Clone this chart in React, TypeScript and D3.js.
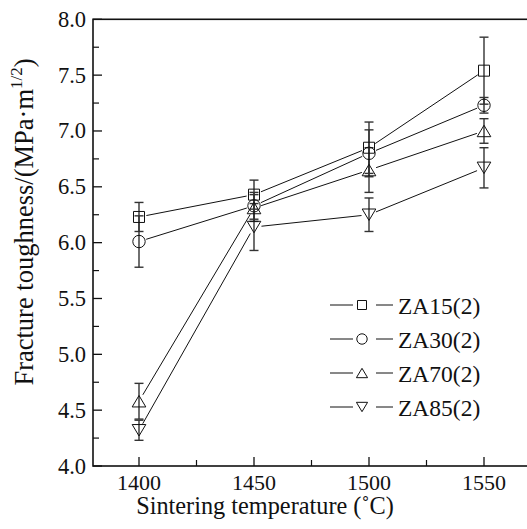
import React from 'react';
import * as d3 from 'd3';

// sintering temperatures (°C)
const temps = [1400, 1450, 1500, 1550];

// fracture toughness values
const za15 = [6.23, 6.43, 6.85, 7.54];
const za15Err = [0.13, 0.13, 0.23, 0.3];
const za30 = [6.01, 6.33, 6.8, 7.23];
const za30Err = [0.23, 0.12, 0.21, 0.07];
const za70 = [4.58, 6.31, 6.65, 7.0];
const za70Err = [0.16, 0.12, 0.2, 0.11];
const za85 = [4.32, 6.14, 6.25, 6.67];
const za85Err = [0.09, 0.21, 0.15, 0.18];

const seriesNames = ['ZA15(2)', 'ZA30(2)', 'ZA70(2)', 'ZA85(2)'];
const markerKinds = ['square', 'circle', 'up', 'down'];

const xMajor = [1400, 1450, 1500, 1550];
const xMinor = [1425, 1475, 1525];
const yMajor = [4.0, 4.5, 5.0, 5.5, 6.0, 6.5, 7.0, 7.5, 8.0];
const yMinor = [4.25, 4.75, 5.25, 5.75, 6.25, 6.75, 7.25, 7.75];

const W = 527;
const H = 529;
const FONT = 'Liberation Serif, DejaVu Serif, serif';

function markerPath(kind: string, x: number, y: number, s: number) {
  if (kind === 'square') {
    const h = s / 2;
    return `M${x - h},${y - h}h${s}v${s}h${-s}Z`;
  }
  if (kind === 'circle') {
    const r = s / 2 + 0.7;
    return `M${x - r},${y}a${r},${r} 0 1,0 ${2 * r},0a${r},${r} 0 1,0 ${-2 * r},0Z`;
  }
  const hw = s * 0.62;
  const hh = s * 0.52;
  if (kind === 'up') {
    return `M${x},${y - hh}L${x + hw},${y + hh}L${x - hw},${y + hh}Z`;
  }
  return `M${x},${y + hh}L${x + hw},${y - hh}L${x - hw},${y - hh}Z`;
}

export default function App() {
  const x = d3.scaleLinear().domain([1380, 1570]).range([93, 530]);
  const y = d3.scaleLinear().domain([4, 8]).range([466, 19.3]);

  const series = [
    { name: seriesNames[0], kind: markerKinds[0], vals: za15, err: za15Err },
    { name: seriesNames[1], kind: markerKinds[1], vals: za30, err: za30Err },
    { name: seriesNames[2], kind: markerKinds[2], vals: za70, err: za70Err },
    { name: seriesNames[3], kind: markerKinds[3], vals: za85, err: za85Err },
  ];

  const gap = 7.5; // lines stop short of the markers
  const segments: string[] = [];
  series.forEach((s) => {
    for (let i = 0; i < temps.length - 1; i++) {
      const x1 = x(temps[i]), y1 = y(s.vals[i]);
      const x2 = x(temps[i + 1]), y2 = y(s.vals[i + 1]);
      const len = Math.hypot(x2 - x1, y2 - y1);
      const dx = (x2 - x1) / len, dy = (y2 - y1) / len;
      segments.push(`M${x1 + dx * gap},${y1 + dy * gap}L${x2 - dx * gap},${y2 - dy * gap}`);
    }
  });

  const left = x.range()[0];
  const bottom = y.range()[0];
  const top = y.range()[1];
  const txt = { fontFamily: FONT };

  return (
    <svg width={W} height={H} style={{ position: 'absolute', left: 0, top: 0, background: '#fff', fontFamily: FONT }}>
      {/* frame */}
      <rect x={left} y={top} width={x.range()[1] - left} height={bottom - top}
        fill="none" stroke="#111" strokeWidth={1.6} />

      {/* y ticks */}
      {yMajor.map((v) => (
        <g key={'ym' + v}>
          <line x1={left} x2={left + 9} y1={y(v)} y2={y(v)} stroke="#111" strokeWidth={1.3} />
          <text x={left - 7} y={y(v) + 7.5} textAnchor="end" fontSize={22.5} fill="#111" style={txt}>
            {d3.format('.1f')(v)}
          </text>
        </g>
      ))}
      {yMinor.map((v) => (
        <line key={'yn' + v} x1={left} x2={left + 6} y1={y(v)} y2={y(v)} stroke="#111" strokeWidth={1.2} />
      ))}

      {/* x ticks */}
      {xMajor.map((v) => (
        <g key={'xm' + v}>
          <line x1={x(v)} x2={x(v)} y1={bottom} y2={bottom - 9} stroke="#111" strokeWidth={1.3} />
          <text x={x(v)} y={bottom + 23.5} textAnchor="middle" fontSize={22} fill="#111" style={txt}>{v}</text>
        </g>
      ))}
      {xMinor.map((v) => (
        <line key={'xn' + v} x1={x(v)} x2={x(v)} y1={bottom} y2={bottom - 6} stroke="#111" strokeWidth={1.2} />
      ))}

      {/* axis titles */}
      <text x={265} y={513.5} textAnchor="middle" fontSize={24.3} fill="#111" style={txt}>
        Sintering temperature (˚C)
      </text>
      <text transform={`translate(33,222) rotate(-90)`} textAnchor="middle" fontSize={26.5} fill="#111" style={txt}>
        Fracture toughness/(MPa·m
        <tspan fontSize={17} dy={-11}>1/2</tspan>
        <tspan dy={11}>)</tspan>
      </text>

      {/* error bars */}
      {series.map((s) =>
        temps.map((t, i) => {
          const cx = x(t);
          const yHi = y(s.vals[i] + s.err[i]);
          const yLo = y(s.vals[i] - s.err[i]);
          return (
            <g key={s.name + t} stroke="#333" strokeWidth={1.4}>
              <line x1={cx} x2={cx} y1={yHi} y2={yLo} />
              <line x1={cx - 4.5} x2={cx + 4.5} y1={yHi} y2={yHi} />
              <line x1={cx - 4.5} x2={cx + 4.5} y1={yLo} y2={yLo} />
            </g>
          );
        })
      )}

      {/* connecting lines */}
      {segments.map((d, i) => (
        <path key={'seg' + i} d={d} fill="none" stroke="#111" strokeWidth={1} />
      ))}

      {/* markers */}
      {series.map((s) =>
        temps.map((t, i) => (
          <path key={'mk' + s.name + t} d={markerPath(s.kind, x(t), y(s.vals[i]), 11)}
            fill="none" stroke="#111" strokeWidth={1} />
        ))
      )}

      {/* legend */}
      {series.map((s, i) => {
        const ly = 305 + i * 34;
        return (
          <g key={'lg' + s.name}>
            <line x1={330} x2={353} y1={ly} y2={ly} stroke="#111" strokeWidth={1} />
            <line x1={376} x2={393} y1={ly} y2={ly} stroke="#111" strokeWidth={1} />
            <path d={markerPath(s.kind, 362, ly, 9)} fill="none" stroke="#111" strokeWidth={1} />
            <text x={398} y={ly + 8.5} fontSize={23.5} fill="#111" style={txt}>{s.name}</text>
          </g>
        );
      })}
    </svg>
  );
}
